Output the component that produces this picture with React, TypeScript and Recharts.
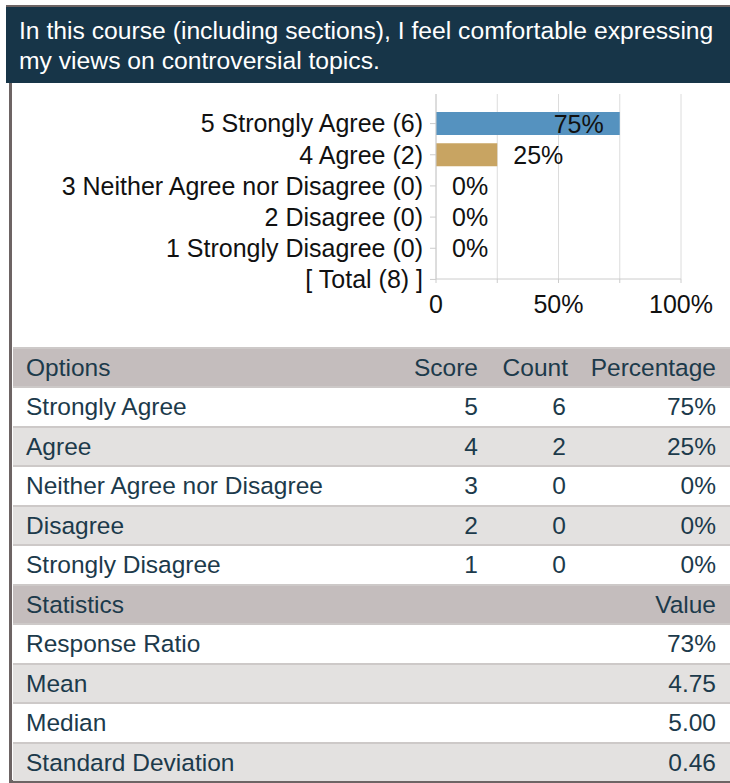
import { BarChart, Bar, XAxis, YAxis, CartesianGrid, Cell, LabelList } from "recharts";

const categories = [
  "5 Strongly Agree (6)",
  "4 Agree (2)",
  "3 Neither Agree nor Disagree (0)",
  "2 Disagree (0)",
  "1 Strongly Disagree (0)",
  "[ Total (8) ]",
];
const percents: (number | null)[] = [75, 25, 0, 0, 0, null];
const barColors = ["#5592bf", "#c8a462", "#5592bf", "#5592bf", "#5592bf", "#5592bf"];
const xTicks = [0, 25, 50, 75, 100];
const xTickLabels = ["0", "", "50%", "", "100%"];

const options = ["Strongly Agree", "Agree", "Neither Agree nor Disagree", "Disagree", "Strongly Disagree"];
const scores = [5, 4, 3, 2, 1];
const counts = [6, 2, 0, 0, 0];
const statNames = ["Response Ratio", "Mean", "Median", "Standard Deviation"];
const statValues = ["73%", "4.75", "5.00", "0.46"];

const title = "In this course (including sections), I feel comfortable expressing my views on controversial topics.";

const chartData = categories.map((label, i) => ({ label, pct: percents[i] }));

const FONT = '"Liberation Sans", Arial, sans-serif';
const TEXT = "#1c3a4b";
const BORDER = "#6d6464";

function BarValue(props: any) {
  const { x, y, width, height, value } = props;
  if (value === null || value === undefined) return null;
  const inside = value >= 50;
  // zero bars get a 1px min width, so start labels from the axis
  const w = value === 0 ? 0 : width;
  const tx = inside ? x + w - 16 : x + w + 16;
  return (
    <text
      x={tx}
      y={y + height / 2}
      dy="0.36em"
      textAnchor={inside ? "end" : "start"}
      fontSize={25}
      fill="#111"
      fontFamily={FONT}
    >
      {`${value}%`}
    </text>
  );
}

function Row({ bg, cells, top }: { bg: string; cells: { text: string; right?: number }[]; top: number }) {
  return (
    <div
      style={{
        position: "absolute",
        left: 13,
        top,
        width: 717,
        height: 39.5,
        background: bg,
        borderTop: "2px solid #cdc9c8",
        boxSizing: "border-box",
      }}
    >
      {cells.map((c, i) => (
        <span
          key={i}
          style={{
            position: "absolute",
            top: 0,
            lineHeight: "37px",
            whiteSpace: "nowrap",
            ...(c.right === undefined ? { left: 13 } : { right: c.right }),
          }}
        >
          {c.text}
        </span>
      ))}
    </div>
  );
}

export default function App() {
  const rowH = 39.45;
  const tableTop = 347;
  const rows: { bg: string; cells: { text: string; right?: number }[] }[] = [];
  rows.push({
    bg: "#c4bdbd",
    cells: [{ text: "Options" }, { text: "Score", right: 252 }, { text: "Count", right: 162 }, { text: "Percentage", right: 14 }],
  });
  options.forEach((o, i) => {
    rows.push({
      bg: i % 2 === 0 ? "#ffffff" : "#e3e1e0",
      cells: [
        { text: o },
        { text: String(scores[i]), right: 252 },
        { text: String(counts[i]), right: 164 },
        { text: `${percents[i]}%`, right: 14 },
      ],
    });
  });
  rows.push({ bg: "#c4bdbd", cells: [{ text: "Statistics" }, { text: "Value", right: 14 }] });
  statNames.forEach((s, i) => {
    rows.push({
      bg: i % 2 === 0 ? "#ffffff" : "#e3e1e0",
      cells: [{ text: s }, { text: statValues[i], right: 14 }],
    });
  });

  return (
    <div
      style={{
        position: "absolute",
        left: 0,
        top: 0,
        width: 730,
        height: 783,
        background: "#fff",
        fontFamily: FONT,
        overflow: "hidden",
      }}
    >
      <div style={{ position: "absolute", left: 6, top: 5, width: 724, height: 2, background: BORDER }} />
      <div
        style={{
          position: "absolute",
          left: 6,
          top: 7,
          width: 724,
          height: 76,
          background: "#173548",
          color: "#fff",
          fontSize: 24.7,
          lineHeight: "30px",
          padding: "9px 4px 0 13px",
          boxSizing: "border-box",
        }}
      >
        {title}
      </div>
      <div style={{ position: "absolute", left: 9, top: 83, width: 3, height: 700, background: BORDER }} />
      <div style={{ position: "absolute", left: 9, top: 780, width: 721, height: 3, background: BORDER }} />

      <div style={{ position: "absolute", left: 12, top: 83 }}>
        <BarChart
          width={718}
          height={264}
          data={chartData}
          layout="vertical"
          margin={{ top: 11, right: 49, bottom: 28, left: 0 }}
        >
          <CartesianGrid horizontal={false} stroke="#dcdcdc" />
          <XAxis
            type="number"
            domain={[0, 100]}
            ticks={xTicks}
            tickFormatter={(v: number) => xTickLabels[xTicks.indexOf(v)]}
            height={40}
            tickSize={4}
            tickMargin={12}
            axisLine={{ stroke: "#cccccc" }}
            tickLine={{ stroke: "#cccccc" }}
            tick={{ fontSize: 25, fill: "#111", fontFamily: FONT }}
            interval={0}
          />
          <YAxis
            type="category"
            dataKey="label"
            width={424}
            tickSize={6}
            tickMargin={7}
            padding={{ top: 14, bottom: -16 }}
            axisLine={{ stroke: "#cccccc" }}
            tickLine={{ stroke: "#cccccc" }}
            tick={{ fontSize: 25, fill: "#111", fontFamily: FONT }}
            interval={0}
          />
          <Bar dataKey="pct" barSize={23} minPointSize={1} isAnimationActive={false}>
            {chartData.map((d, i) => (
              <Cell key={i} fill={d.pct ? barColors[i] : "transparent"} />
            ))}
            <LabelList dataKey="pct" content={BarValue} />
          </Bar>
        </BarChart>
      </div>

      <div style={{ position: "absolute", left: 0, top: 0, color: TEXT, fontSize: 24.5 }}>
        {rows.map((r, i) => (
          <Row key={i} bg={r.bg} cells={r.cells} top={tableTop + i * rowH} />
        ))}
      </div>
    </div>
  );
}
